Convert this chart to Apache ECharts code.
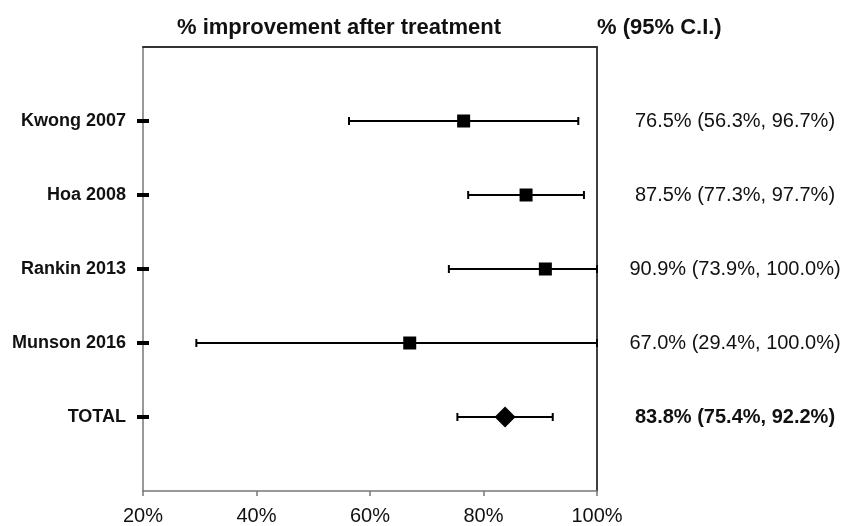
<!DOCTYPE html>
<html>
<head>
<meta charset="utf-8">
<script src="https://cdn.jsdelivr.net/npm/echarts@6/dist/echarts.min.js"></script>
<style>
html,body{margin:0;padding:0;background:#fff;}
#chart{width:846px;height:526px;}
</style>
</head>
<body>
<div id="chart"></div>
<script>
const categories = ['Kwong 2007', 'Hoa 2008', 'Rankin 2013', 'Munson 2016', 'TOTAL'];
const estimates = [76.5, 87.5, 90.9, 67.0, 83.8];
const lower = [56.3, 77.3, 73.9, 29.4, 75.4];
const upper = [96.7, 97.7, 100.0, 100.0, 92.2];
const xTicks = [20, 40, 60, 80, 100];
const titleText = '% improvement after treatment';
const ciHeader = '% (95% C.I.)';

const FONT = 'Arial, "Liberation Sans", Helvetica, sans-serif';
const nRows = categories.length;
const totalIdx = nRows - 1;

function ciLabel(i) {
  return estimates[i].toFixed(1) + '% (' + lower[i].toFixed(1) + '%, ' + upper[i].toFixed(1) + '%)';
}

const chart = echarts.init(document.getElementById('chart'), null, {renderer: 'canvas'});
const option = {
  animation: false,
  backgroundColor: '#ffffff',
  title: [
    {text: titleText, left: 172, top: 12,
     textStyle: {fontFamily: FONT, fontSize: 22, fontWeight: 'bold', color: '#111'}},
    {text: ciHeader, left: 592, top: 12,
     textStyle: {fontFamily: FONT, fontSize: 22, fontWeight: 'bold', color: '#111'}}
  ],
  grid: {left: 143, right: 249, top: 47, bottom: 34, containLabel: false},
  xAxis: [
    {type: 'value', position: 'bottom', min: xTicks[0], max: xTicks[xTicks.length - 1], interval: 20,
     axisLine: {show: true, onZero: false, lineStyle: {color: '#777', width: 1.5}},
     axisTick: {show: true, length: 5, lineStyle: {color: '#777', width: 1.5}},
     axisLabel: {formatter: '{value}%', fontFamily: FONT, fontSize: 20, color: '#111', margin: 15},
     splitLine: {show: false}},
    {type: 'value', position: 'top', min: xTicks[0], max: xTicks[xTicks.length - 1], interval: 20,
     axisLine: {show: true, onZero: false, lineStyle: {color: '#333', width: 2}},
     axisTick: {show: false}, axisLabel: {show: false}, splitLine: {show: false}}
  ],
  yAxis: [
    {type: 'value', position: 'left', inverse: true, min: 0, max: nRows + 1, interval: 1,
     axisLine: {show: true, onZero: false, lineStyle: {color: '#777', width: 1.5}},
     axisTick: {show: false}, splitLine: {show: false},
     axisLabel: {
       margin: 17, fontFamily: FONT, fontSize: 18, fontWeight: 'bold', color: '#111',
       formatter: v => (v >= 1 && v <= nRows) ? categories[v - 1] : ''
     }},
    {type: 'value', position: 'right', inverse: true, min: 0, max: nRows + 1, interval: 1,
     axisLine: {show: true, onZero: false, lineStyle: {color: '#000', width: 1.5}},
     axisTick: {show: false}, splitLine: {show: false},
     axisLabel: {
       margin: 138, align: 'center',
       formatter: v => {
         if (v < 1 || v > nRows) return '';
         const i = v - 1;
         return i === totalIdx ? '{b|' + ciLabel(i) + '}' : '{n|' + ciLabel(i) + '}';
       },
       rich: {
         n: {fontFamily: FONT, fontSize: 20, color: '#111'},
         b: {fontFamily: FONT, fontSize: 20, fontWeight: 'bold', color: '#111'}
       }
     }}
  ],
  series: [
    {
      type: 'custom',
      xAxisIndex: 0, yAxisIndex: 0,
      clip: false,
      data: categories.map((c, i) => [lower[i], upper[i], i + 1]),
      renderItem: function (params, api) {
        const y = api.value(2);
        const p1 = api.coord([api.value(0), y]);
        const p2 = api.coord([api.value(1), y]);
        const st = {stroke: '#000', lineWidth: 2};
        const cap = 4;
        return {
          type: 'group',
          children: [
            {type: 'line', shape: {x1: p1[0], y1: p1[1], x2: p2[0], y2: p2[1]}, style: st},
            {type: 'line', shape: {x1: p1[0], y1: p1[1] - cap, x2: p1[0], y2: p1[1] + cap}, style: st},
            {type: 'line', shape: {x1: p2[0], y1: p2[1] - cap, x2: p2[0], y2: p2[1] + cap}, style: st}
          ]
        };
      },
      z: 2
    },
    {
      type: 'scatter', xAxisIndex: 0, yAxisIndex: 0,
      symbol: 'rect', symbolSize: 13,
      itemStyle: {color: '#000', opacity: 1},
      data: estimates.slice(0, totalIdx).map((v, i) => [v, i + 1]),
      z: 3
    },
    {
      type: 'scatter', xAxisIndex: 0, yAxisIndex: 0,
      symbol: 'diamond', symbolSize: [21, 21],
      itemStyle: {color: '#000', opacity: 1},
      data: [[estimates[totalIdx], totalIdx + 1]],
      z: 3
    },
    {
      type: 'scatter', xAxisIndex: 0, yAxisIndex: 0,
      symbol: 'rect', symbolSize: [12, 4],
      clip: false,
      itemStyle: {color: '#000', opacity: 1},
      data: categories.map((c, i) => [xTicks[0], i + 1]),
      z: 4
    }
  ]
};
chart.setOption(option);
</script>
</body>
</html>
